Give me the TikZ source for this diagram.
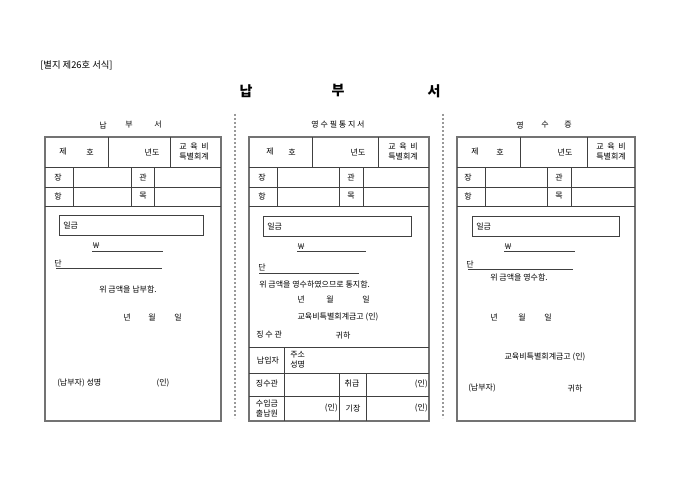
\documentclass[tikz,border=0pt]{standalone}
\usepackage{fontspec}
\newfontfamily\kr{Noto Sans CJK KR}
\begin{document}
\begin{tikzpicture}[x=0.75pt,y=-0.75pt,
  t/.style={font=\kr\fontsize{6}{7}\selectfont, inner sep=0pt, text=black},
  hd/.style={font=\kr\fontsize{7}{8}\selectfont, inner sep=0pt, text=black},
  ttl/.style={font=\kr\bfseries\fontsize{10.5}{12}\selectfont, inner sep=0pt},
  frame/.style={draw=black!55, line width=0.9pt},
  grid/.style={draw=black!75, line width=0.5pt},
  sep/.style={draw=black!40, line width=1.2pt, dash pattern=on 1.2pt off 1.8pt}]
\useasboundingbox[fill=white] (0,0) rectangle (680,481);

% header and title
\node[hd, anchor=west] (hdr) at (40,65) {[별지 제26호 서식]};
\node[ttl] (ti1) at (246,91) {납};
\node[ttl] (ti2) at (338,91) {부};
\node[ttl] (ti3) at (434,91) {서};

% separators
\draw[sep] (235,114) -- (235,418);
\draw[sep] (443,114) -- (443,418);

% ================= panel 1 =================
\node[t] (h1a) at (103,125) {납};
\node[t] (h1b) at (129,125) {부};
\node[t] (h1c) at (158,125) {서};
\draw[frame] (45,137) rectangle (221,421);
\draw[grid] (45,167) -- (221,167) (45,187) -- (221,187) (45,206) -- (221,206);
\draw[grid] (108,137) -- (108,167) (170,137) -- (170,167);
\draw[grid] (73,167) -- (73,206) (131,167) -- (131,206) (154,167) -- (154,206);
\node[t] (a1) at (63,152) {제};
\node[t] (a2) at (90,152) {호};
\node[t] (a3) at (152,152) {년도};
\node[t] (a4) at (194,147) {교\ \ 육\ \ 비};
\node[t] (a5) at (194,157) {특별회계};
\node[t] (a6) at (58,177) {장};
\node[t] (a7) at (143,177) {관};
\node[t] (a8) at (58,196) {항};
\node[t] (a9) at (143,196) {목};
\draw[grid] (59,215) rectangle (203,235);
\node[t, anchor=west] (a10) at (63,225) {일금};
\node[t] (a11) at (96,246) {￦};
\draw[grid] (92,251) -- (163,251);
\node[t] (a12) at (58,263) {단};
\draw[grid] (56,268) -- (162,268);
\node[t] (a13) at (128,289) {위 금액을 납부함.};
\node[t] (a14) at (127,317) {년};
\node[t] (a15) at (152,317) {월};
\node[t] (a16) at (178,317) {일};
\node[t, anchor=west] (a17) at (57,383) {(납부자) 성명};
\node[t] (a18) at (163,383) {(인)};

% ================= panel 2 =================
\node[t] (h2) at (338,125) {영\ 수\ 필\ 통\ 지\ 서};
\draw[frame] (249,137) rectangle (429,421);
\draw[grid] (249,167) -- (429,167) (249,187) -- (429,187) (249,206) -- (429,206);
\draw[grid] (312,137) -- (312,167) (378,137) -- (378,167);
\draw[grid] (277,167) -- (277,206) (339,167) -- (339,206) (363,167) -- (363,206);
\node[t] (b1) at (270,152) {제};
\node[t] (b2) at (292,152) {호};
\node[t] (b3) at (358,152) {년도};
\node[t] (b4) at (403,147) {교\ \ 육\ \ 비};
\node[t] (b5) at (403,157) {특별회계};
\node[t] (b6) at (262,177) {장};
\node[t] (b7) at (351,177) {관};
\node[t] (b8) at (262,196) {항};
\node[t] (b9) at (351,196) {목};
\draw[grid] (263,216) rectangle (411,236);
\node[t, anchor=west] (b10) at (267,226) {일금};
\node[t] (b11) at (301,247) {￦};
\draw[grid] (297,251) -- (366,251);
\node[t] (b12) at (262,267) {단};
\draw[grid] (259,273) -- (359,273);
\node[t, anchor=west] (b13) at (259,284) {위 금액을 영수하였으므로 통지함.};
\node[t] (b14) at (301,299) {년};
\node[t] (b15) at (330,299) {월};
\node[t] (b16) at (366,299) {일};
\node[t] (b17) at (338,317) {교육비특별회계금고 (인)};
\node[t, anchor=west] (b18) at (256,335) {징\ 수\ 관};
\node[t] (b19) at (343,335) {귀하};
\draw[grid] (249,347) -- (429,347) (249,373) -- (429,373) (249,396) -- (429,396);
\draw[grid] (284,347) -- (284,421) (339,373) -- (339,421) (366,373) -- (366,421);
\node[t] (b20) at (268,360) {납입자};
\node[t, anchor=west] (b21) at (290,355) {주소};
\node[t, anchor=west] (b22) at (290,364) {성명};
\node[t] (b23) at (267,384) {징수관};
\node[t] (b24) at (352,384) {취급};
\node[t, anchor=east] (b25) at (428,384) {(인)};
\node[t] (b26) at (267,403) {수입금};
\node[t] (b27) at (267,413) {출납원};
\node[t, anchor=east] (b28) at (338,408) {(인)};
\node[t] (b29) at (353,408) {기장};
\node[t, anchor=east] (b30) at (428,408) {(인)};

% ================= panel 3 =================
\node[t] (h3a) at (520,125) {영};
\node[t] (h3b) at (545,125) {수};
\node[t] (h3c) at (568,125) {증};
\draw[frame] (457,137) rectangle (635,421);
\draw[grid] (457,167) -- (635,167) (457,187) -- (635,187) (457,206) -- (635,206);
\draw[grid] (520,137) -- (520,167) (587,137) -- (587,167);
\draw[grid] (485,167) -- (485,206) (547,167) -- (547,206) (571,167) -- (571,206);
\node[t] (c1) at (475,152) {제};
\node[t] (c2) at (500,152) {호};
\node[t] (c3) at (565,152) {년도};
\node[t] (c4) at (611,147) {교\ \ 육\ \ 비};
\node[t] (c5) at (611,157) {특별회계};
\node[t] (c6) at (468,177) {장};
\node[t] (c7) at (559,177) {관};
\node[t] (c8) at (468,196) {항};
\node[t] (c9) at (559,196) {목};
\draw[grid] (472,216) rectangle (619,236);
\node[t, anchor=west] (c10) at (476,226) {일금};
\node[t] (c11) at (508,247) {￦};
\draw[grid] (504,251) -- (575,251);
\node[t] (c12) at (470,264) {단};
\draw[grid] (468,269) -- (573,269);
\node[t] (c13) at (519,277) {위 금액을 영수함.};
\node[t] (c14) at (494,317) {년};
\node[t] (c15) at (522,317) {월};
\node[t] (c16) at (548,317) {일};
\node[t] (c17) at (545,357) {교육비특별회계금고 (인)};
\node[t, anchor=west] (c18) at (468,388) {(납부자)};
\node[t] (c19) at (575,388) {귀하};
\end{tikzpicture}
\end{document}
